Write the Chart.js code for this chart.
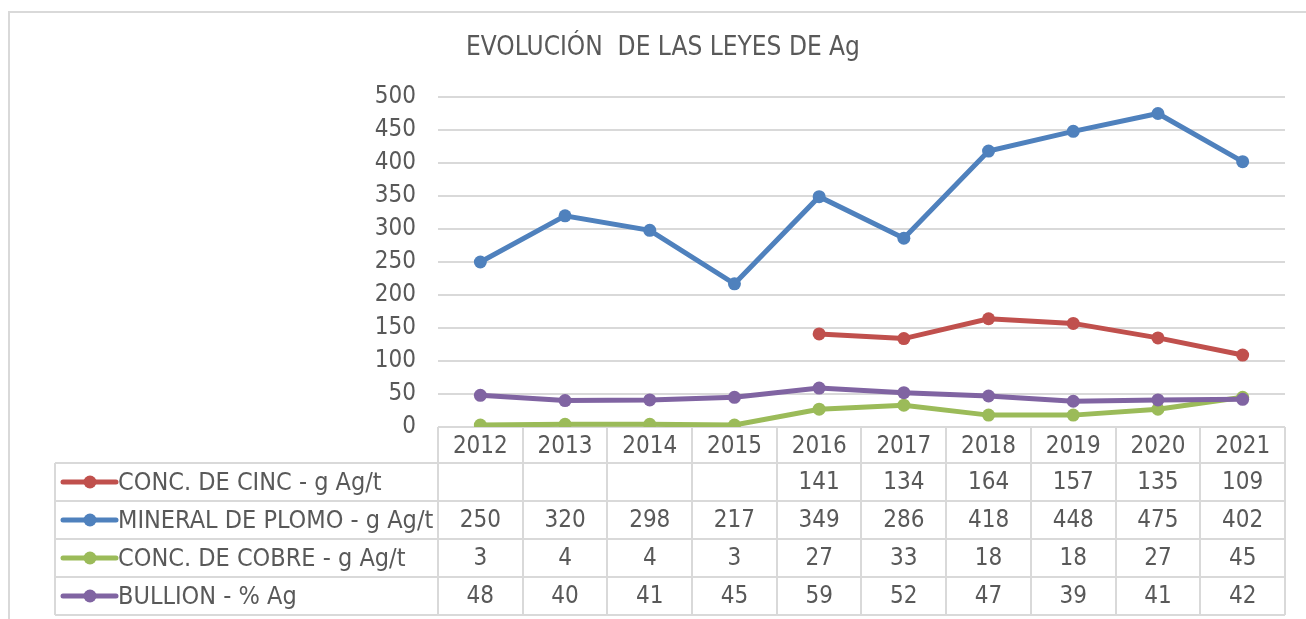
<!DOCTYPE html>
<html>
<head>
<meta charset="utf-8">
<script src="https://cdn.jsdelivr.net/npm/chart.js@4/dist/chart.umd.min.js"></script>
<style>
  body { margin: 0; background: #fff; }
  #chart { display: block; }
</style>
</head>
<body>
<canvas id="chart" width="1306" height="619"></canvas>
<script>
const title = "EVOLUCIÓN  DE LAS LEYES DE Ag";
const years = ["2012", "2013", "2014", "2015", "2016", "2017", "2018", "2019", "2020", "2021"];
const cinc = [null, null, null, null, 141, 134, 164, 157, 135, 109];
const plomo = [250, 320, 298, 217, 349, 286, 418, 448, 475, 402];
const cobre = [3, 4, 4, 3, 27, 33, 18, 18, 27, 45];
const bullion = [48, 40, 41, 45, 59, 52, 47, 39, 41, 42];

const seriesNames = ["CONC. DE CINC - g Ag/t", "MINERAL DE PLOMO - g Ag/t", "CONC. DE COBRE - g Ag/t", "BULLION - % Ag"];
const seriesColors = ["#C0504D", "#4F81BD", "#9BBB59", "#8064A2"];
const seriesData = [cinc, plomo, cobre, bullion];

const FONT = "'Liberation Sans Narrow', 'DejaVu Sans Condensed', sans-serif";
const TEXT = "#595959";
const GRID = "#D9D9D9";
const ROW_H = 38;
const HEAD_H = 36;

// title + chart border
const framePlugin = {
  id: "frame",
  beforeDraw(chart) {
    const ctx = chart.ctx;
    ctx.save();
    ctx.strokeStyle = GRID;
    ctx.lineWidth = 2;
    ctx.strokeRect(9, 12, 1400, 800);
    ctx.fillStyle = TEXT;
    ctx.font = "26px " + FONT;
    ctx.textAlign = "center";
    ctx.textBaseline = "middle";
    ctx.fillText(title, 663, 48);
    ctx.restore();
  }
};

// data table under the plot
const tablePlugin = {
  id: "dataTable",
  afterDraw(chart) {
    const ctx = chart.ctx;
    const x = chart.scales.x;
    const area = chart.chartArea;
    const colW = x.getPixelForTick(1) - x.getPixelForTick(0);
    const top = area.bottom;
    const rowsTop = top + HEAD_H;
    const bottom = rowsTop + ROW_H * seriesData.length;
    const tableLeft = 55;
    ctx.save();
    ctx.strokeStyle = GRID;
    ctx.lineWidth = 2;
    ctx.beginPath();
    // verticals
    for (let i = 0; i <= years.length; i++) {
      const px = Math.round(area.left + colW * i);
      ctx.moveTo(px, top);
      ctx.lineTo(px, bottom);
    }
    ctx.moveTo(tableLeft, rowsTop);
    ctx.lineTo(tableLeft, bottom);
    // horizontals
    for (let r = 0; r <= seriesData.length; r++) {
      const py = Math.round(rowsTop + ROW_H * r);
      ctx.moveTo(tableLeft, py);
      ctx.lineTo(area.right, py);
    }
    ctx.stroke();

    ctx.textBaseline = "middle";
    seriesData.forEach((vals, r) => {
      const cy = rowsTop + ROW_H * r + ROW_H / 2;
      // legend key
      ctx.strokeStyle = seriesColors[r];
      ctx.lineWidth = 5;
      ctx.lineCap = "round";
      ctx.beginPath();
      ctx.moveTo(63, cy);
      ctx.lineTo(116, cy);
      ctx.stroke();
      ctx.fillStyle = seriesColors[r];
      ctx.beginPath();
      ctx.arc(90, cy, 6.5, 0, Math.PI * 2);
      ctx.fill();
      ctx.fillStyle = TEXT;
      ctx.textAlign = "left";
      ctx.font = "25px " + FONT;
      ctx.fillText(seriesNames[r], 118, cy + 1);
      ctx.textAlign = "center";
      ctx.font = "24px " + FONT;
      vals.forEach((v, i) => {
        if (v === null) return;
        ctx.fillText(String(v), x.getPixelForTick(i), cy + 1);
      });
    });
    ctx.restore();
  }
};

const order = [3, 2, 1, 0];
const datasets = seriesData.map((vals, i) => ({
  label: seriesNames[i],
  data: vals,
  borderColor: seriesColors[i],
  backgroundColor: seriesColors[i],
  borderWidth: 5,
  pointRadius: 6.5,
  pointBorderWidth: 0,
  pointBackgroundColor: seriesColors[i],
  tension: 0,
  spanGaps: false,
  order: order[i],
}));

new Chart(document.getElementById("chart"), {
  type: "line",
  data: { labels: years, datasets: datasets },
  options: {
    responsive: false,
    animation: false,
    events: [],
    layout: { padding: { top: 97, left: 0, right: 21, bottom: 4 } },
    plugins: {
      legend: { display: false },
      title: { display: false },
      tooltip: { enabled: false },
    },
    scales: {
      x: {
        offset: true,
        grid: { display: false },
        border: { display: false },
        ticks: { color: TEXT, font: { family: FONT, size: 24 }, padding: -3, maxRotation: 0 },
        afterFit(scale) { scale.height = 188; },
      },
      y: {
        min: 0,
        max: 500,
        grid: { color: GRID, lineWidth: 2, drawTicks: false },
        border: { display: false },
        ticks: { stepSize: 50, color: TEXT, font: { family: FONT, size: 24 }, padding: 22 },
        afterFit(scale) { scale.width = 438; },
      },
    },
  },
  plugins: [framePlugin, tablePlugin],
});
</script>
</body>
</html>
